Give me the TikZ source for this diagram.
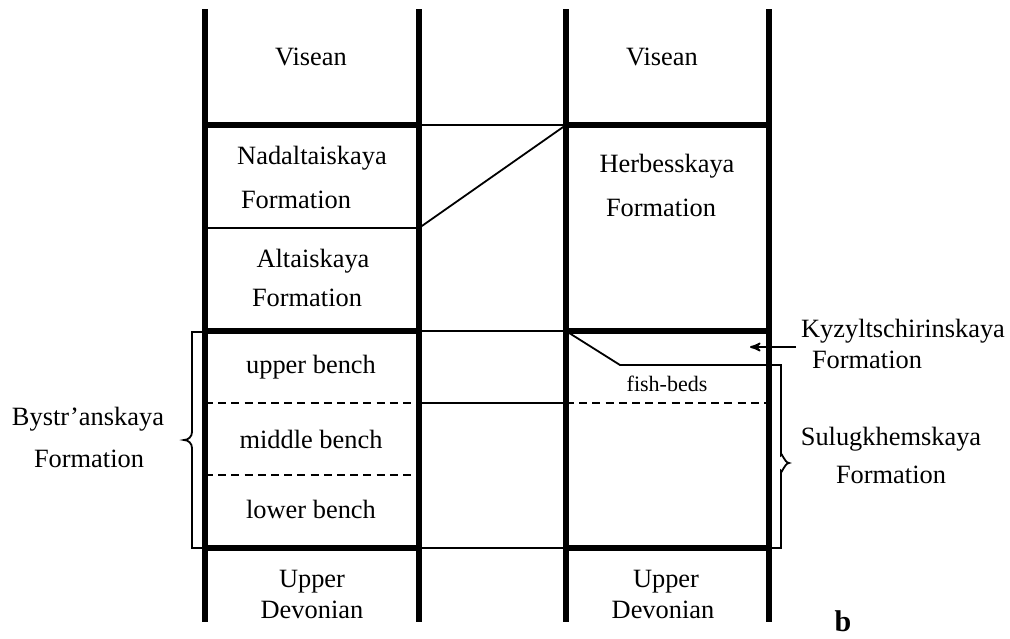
\documentclass[tikz,border=0pt]{standalone}
\usepackage{fontspec}
\setmainfont{Liberation Serif}
\usepackage{tikz}
\usetikzlibrary{calc,positioning,arrows}

\begin{document}
\begin{tikzpicture}[x=0.5pt,y=-0.5pt,>=stealth',
                    thickline/.style={line width=2.6pt},
                    thinline/.style={line width=0.9pt},
                    dashline/.style={line width=0.8pt,dash pattern=on 4pt off 2.6pt},
                    lbl/.style={anchor=base,inner sep=0pt,font=\fontsize{13.2}{15}\selectfont},
                    small/.style={anchor=base,inner sep=0pt,font=\fontsize{11}{13}\selectfont}]

  \useasboundingbox (0,0) rectangle (1010,638);

  % column edges
  \foreach \x/\n in {205/a,419/b,566/c,769/d}{
    \coordinate (top\n) at (\x,9);
    \coordinate (bot\n) at (\x,622);
    \draw[thickline] (top\n) -- (bot\n);
  }

  % boundaries
  \foreach \y/\n in {125/vis,331/byst,548/dev}{
    \draw[thickline] (205,\y) -- (419,\y);
    \draw[thinline] (419,\y) -- (566,\y);
    \draw[thickline] (566,\y) -- (769,\y);
  }
  \coordinate (nadal) at (419,228);
  \coordinate (herb) at (566,125);
  \draw[thinline] (205,228) -- (nadal) -- (herb);

  \coordinate (kyz) at (566,331);
  \coordinate (kyzbend) at (620,365);
  \coordinate (kyzend) at (769,365);
  \draw[thinline] (kyz) -- (kyzbend) -- (kyzend);

  \draw[dashline] (205,403) -- (419,403);
  \draw[thinline] (419,403) -- (566,403);
  \draw[dashline] (566,403) -- (769,403);
  \draw[dashline] (205,475) -- (419,475);

  % braces
  \draw[thinline] (205,332) -- (192,332) -- (192,432)
        to[out=-90,in=0] (184,440) to[out=0,in=90] (192,448)
        -- (192,548) -- (205,548);
  \draw[thinline] (kyzend) -- (781,365) -- (781,455)
        to[out=90,in=180] (789,463) to[out=180,in=-90] (781,471)
        -- (781,548) -- (769,548);

  \coordinate (arrS) at (796,347);
  \coordinate (arrE) at (750,347);
  \draw[->,thinline] (arrS) -- (arrE);

  % labels
  \node[lbl] (vis1) at (311,65) {Visean};
  \node[lbl] (vis2) at (662,65) {Visean};
  \node[lbl] (nad1) at (312,164) {Nadaltaiskaya};
  \node[lbl] (nad2) at (296,208) {Formation};
  \node[lbl] (alt1) at (313,267) {Altaiskaya};
  \node[lbl] (alt2) at (307,306) {Formation};
  \node[lbl] (her1) at (667,172) {Herbesskaya};
  \node[lbl] (her2) at (661,216) {Formation};
  \node[lbl] (upb) at (311,373) {upper bench};
  \node[lbl] (mdb) at (311,448) {middle bench};
  \node[lbl] (lwb) at (311,518) {lower bench};
  \node[small] (fish) at (667,391) {fish-beds};
  \node[lbl] (dev1) at (312,587) {Upper};
  \node[lbl] (dev2) at (312,618) {Devonian};
  \node[lbl] (dev3) at (666,587) {Upper};
  \node[lbl] (dev4) at (663,618) {Devonian};
  \node[lbl] (bys1) at (88,425) {Bystr’anskaya};
  \node[lbl] (bys2) at (89,467) {Formation};
  \node[lbl] (kyz1) at (903,337) {Kyzyltschirinskaya};
  \node[lbl] (kyz2) at (867,368) {Formation};
  \node[lbl] (sul1) at (891,445) {Sulugkhemskaya};
  \node[lbl] (sul2) at (891,483) {Formation};
  \node[lbl,font=\fontsize{15}{17}\bfseries] (fig) at (843,631) {b};

\end{tikzpicture}
\end{document}
